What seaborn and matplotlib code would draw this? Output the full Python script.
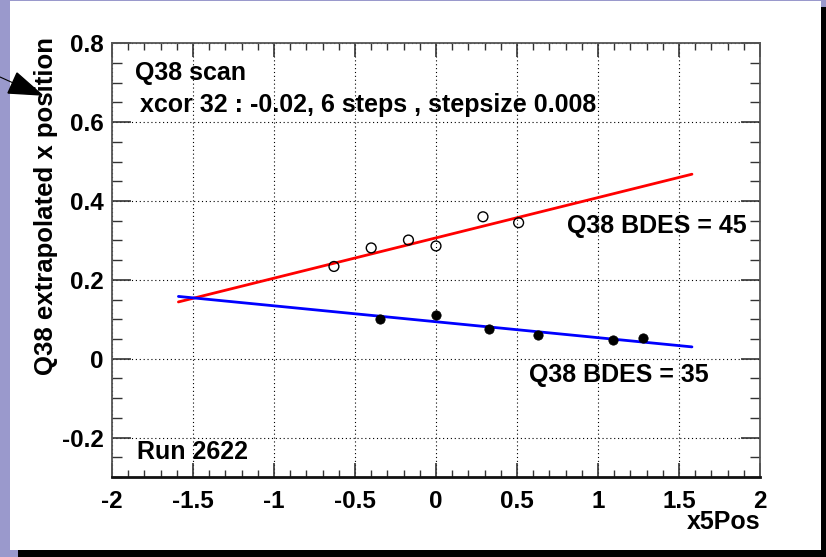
import matplotlib
matplotlib.use("Agg")
import matplotlib.pyplot as plt
from matplotlib.patches import Rectangle, Polygon
from matplotlib.lines import Line2D
from matplotlib.ticker import MultipleLocator, FixedLocator
import seaborn as sns
import pandas as pd

# ---- data ----
x_bdes45 = [-0.63, -0.40, -0.17, 0.0, 0.29, 0.51]
y_bdes45 = [0.234, 0.281, 0.301, 0.286, 0.360, 0.345]
x_bdes35 = [-0.345, 0.0, 0.33, 0.63, 1.09, 1.28]
y_bdes35 = [0.102, 0.110, 0.076, 0.059, 0.047, 0.052]
fit45_x = [-1.59, 1.58]
fit45_y = [0.144, 0.468]
fit35_x = [-1.59, 1.58]
fit35_y = [0.158, 0.030]
x_ticks = [-2, -1.5, -1, -0.5, 0, 0.5, 1, 1.5, 2]
x_ticklabels = ["-2", "-1.5", "-1", "-0.5", "0", "0.5", "1", "1.5", "2"]
y_ticks = [-0.2, 0, 0.2, 0.4, 0.6, 0.8]
y_ticklabels = ["-0.2", "0", "0.2", "0.4", "0.6", "0.8"]

sns.set_style("ticks")
plt.rcParams["font.family"] = ["Liberation Sans", "DejaVu Sans"]
plt.rcParams["font.weight"] = "bold"
plt.rcParams["text.color"] = "black"

W, H = 826, 557
fig = plt.figure(figsize=(W / 100, H / 100), dpi=100)
fig.patch.set_facecolor("#9a99cc")

def px_rect(x0, y0, x1, y1, color):
    fig.patches.append(Rectangle((x0 / W, 1 - y1 / H), (x1 - x0) / W, (y1 - y0) / H,
                                 transform=fig.transFigure, facecolor=color,
                                 edgecolor="none", zorder=-10))

px_rect(10, 1, 821, 550, "white")
px_rect(821, 7, 826, 557, "black")
px_rect(18, 550, 826, 557, "black")

ax = fig.add_axes([112 / W, 1 - 477 / H, (760 - 112) / W, (477 - 43.3) / H])
ax.set_zorder(1)
ax.set_facecolor("white")

d45 = pd.DataFrame({"x": x_bdes45, "y": y_bdes45})
d35 = pd.DataFrame({"x": x_bdes35, "y": y_bdes35})
f45 = pd.DataFrame({"x": fit45_x, "y": fit45_y})
f35 = pd.DataFrame({"x": fit35_x, "y": fit35_y})

sns.lineplot(data=f45, x="x", y="y", color="#ff0000", lw=2.0, ax=ax, zorder=3)
sns.lineplot(data=f35, x="x", y="y", color="#0000ff", lw=2.0, ax=ax, zorder=3)
sns.scatterplot(data=d45, x="x", y="y", marker="o", s=50, facecolor="none",
                edgecolor="black", linewidth=1.0, ax=ax, zorder=4)
sns.scatterplot(data=d35, x="x", y="y", marker="o", s=45, color="black",
                edgecolor="black", ax=ax, zorder=4)

ax.set_xlim(-2, 2)
ax.set_ylim(-0.3, 0.8)
ax.xaxis.set_major_locator(FixedLocator(x_ticks))
ax.set_xticklabels(x_ticklabels)
ax.yaxis.set_major_locator(FixedLocator(y_ticks))
ax.set_yticklabels(y_ticklabels)
ax.xaxis.set_minor_locator(MultipleLocator(0.1))
ax.yaxis.set_minor_locator(MultipleLocator(0.05))
ax.tick_params(which="both", direction="in", top=True, right=True, colors="#333333",
               labelcolor="black")
ax.tick_params(axis="x", which="major", length=10, width=1.2, labelsize=17.5, pad=9)
ax.tick_params(axis="x", which="minor", length=5, width=1.0)
ax.tick_params(axis="y", which="major", length=14, width=1.2, labelsize=17.5, pad=6)
ax.tick_params(axis="y", which="minor", length=7, width=1.0)
for lab in ax.get_xticklabels() + ax.get_yticklabels():
    lab.set_fontweight("bold")

ax.grid(which="major", linestyle=(0, (1, 2.5)), color="black", linewidth=0.8)
for side in ["left", "right", "top"]:
    ax.spines[side].set_color("#555555")
    ax.spines[side].set_linewidth(1.3)
ax.spines["bottom"].set_color("#111111")
ax.spines["bottom"].set_linewidth(2.0)

ax.set_xlabel("")
ax.set_ylabel("")
fig.text(760 / W, 1 - 529 / H, "x5Pos", ha="right", va="baseline", fontsize=18,
         fontweight="bold", color="black")
fig.text(58 / W, 1 - 375 / H, "Q38 extrapolated x position", rotation=90,
         ha="right", va="bottom", fontsize=18.5, fontweight="bold", color="black")

ts = 18
ax.text(-1.858, 0.707, "Q38 scan", fontsize=ts, fontweight="bold", va="baseline",
        color="black")
ax.text(-1.827, 0.626, "xcor 32 : -0.02, 6 steps , stepsize 0.008", fontsize=ts,
        fontweight="bold", va="baseline", color="black")
ax.text(1.92, 0.319, "Q38 BDES = 45", fontsize=ts, fontweight="bold", ha="right",
        va="baseline", color="black")
ax.text(1.685, -0.059, "Q38 BDES = 35", fontsize=ts, fontweight="bold", ha="right",
        va="baseline", color="black")
ax.text(-1.846, -0.254, "Run 2622", fontsize=ts, fontweight="bold", va="baseline",
        color="black")

# annotation arrow at the left edge
def P(x, y):
    return (x / W, 1 - y / H)
fig.lines.append(Line2D([P(0, 77)[0], P(20, 86)[0]], [P(0, 77)[1], P(20, 86)[1]],
                        transform=fig.transFigure, color="black", lw=0.8, zorder=5))
fig.patches.append(Polygon([P(17, 73), P(8, 93), P(42, 95)], closed=True,
                           transform=fig.transFigure, facecolor="black",
                           edgecolor="black", zorder=5))

fig.savefig("out.png", dpi=100, facecolor=fig.get_facecolor())
